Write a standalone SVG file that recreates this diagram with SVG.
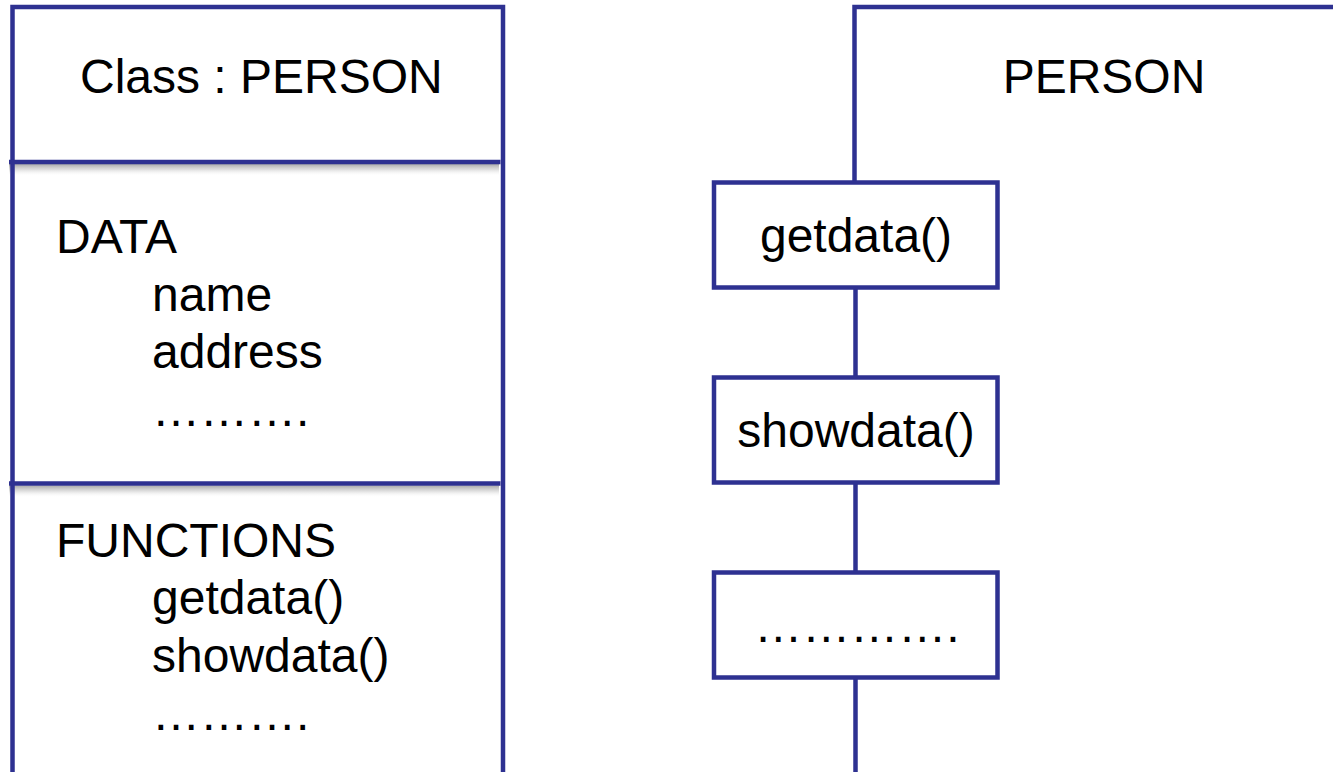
<svg xmlns="http://www.w3.org/2000/svg" width="1333" height="772" viewBox="0 0 1333 772">
  <style>
    .frame { fill: none; stroke: #2e3191; stroke-width: 4.5; stroke-linejoin: miter; }
    .box { fill: #ffffff; stroke: #2e3191; stroke-width: 4.5; }
    .wire { stroke: #2e3191; stroke-width: 4.5; fill: none; }
    .lbl { font-family: "Liberation Sans", Arial, sans-serif; font-size: 48px; fill: #000000; }
    .mid { text-anchor: middle; }
    .shade { fill: url(#dropShade); }
  </style>
  <defs>
    <!-- soft drop shadow under the compartment dividers -->
    <linearGradient id="dropShade" x1="0" y1="0" x2="0" y2="1">
      <stop offset="0" stop-color="#8c8c8c" stop-opacity="0.75"/>
      <stop offset="0.45" stop-color="#b4b4b4" stop-opacity="0.45"/>
      <stop offset="1" stop-color="#ffffff" stop-opacity="0"/>
    </linearGradient>
  </defs>

  <rect width="1333" height="772" fill="#ffffff"/>

  <!-- class box: name / data / functions compartments -->
  <g id="class-person">
    <rect class="shade" x="9" y="164" width="490" height="12"/>
    <rect class="shade" x="9" y="485.5" width="490" height="12"/>
    <path class="frame" d="M12.5 772 V7 H503 V772"/>
    <line class="wire" x1="9" y1="162" x2="500.5" y2="162"/>
    <line class="wire" x1="9" y1="483.5" x2="500.5" y2="483.5"/>
    <text class="lbl" x="80" y="93">Class : PERSON</text>
    <text class="lbl" x="56" y="253">DATA</text>
    <text class="lbl" x="152" y="311">name</text>
    <text class="lbl" x="152" y="368">address</text>
    <text class="lbl" x="152" y="426">……….</text>
    <text class="lbl" x="56" y="557">FUNCTIONS</text>
    <text class="lbl" x="152" y="614">getdata()</text>
    <text class="lbl" x="152" y="672">showdata()</text>
    <text class="lbl" x="152" y="730">……….</text>
  </g>

  <!-- object frame -->
  <g id="object-person">
    <path class="frame" d="M854.5 182.5 V7 H1340"/>
    <text class="lbl mid" x="1104" y="93">PERSON</text>
  </g>

  <!-- links between the method boxes -->
  <g id="connectors">
    <line class="wire" x1="855.5" y1="287.5" x2="855.5" y2="377.5"/>
    <line class="wire" x1="855.5" y1="482.5" x2="855.5" y2="572.5"/>
    <line class="wire" x1="855.5" y1="677.5" x2="855.5" y2="772"/>
  </g>

  <g id="method-getdata">
    <rect class="box" x="714" y="182.5" width="283.5" height="105"/>
    <text class="lbl mid" x="856" y="252">getdata()</text>
  </g>

  <g id="method-showdata">
    <rect class="box" x="714" y="377.5" width="283.5" height="105"/>
    <text class="lbl mid" x="856" y="447">showdata()</text>
  </g>

  <g id="method-more">
    <rect class="box" x="714" y="572.5" width="283.5" height="105"/>
    <text class="lbl mid" x="857" y="642">………….</text>
  </g>
</svg>
